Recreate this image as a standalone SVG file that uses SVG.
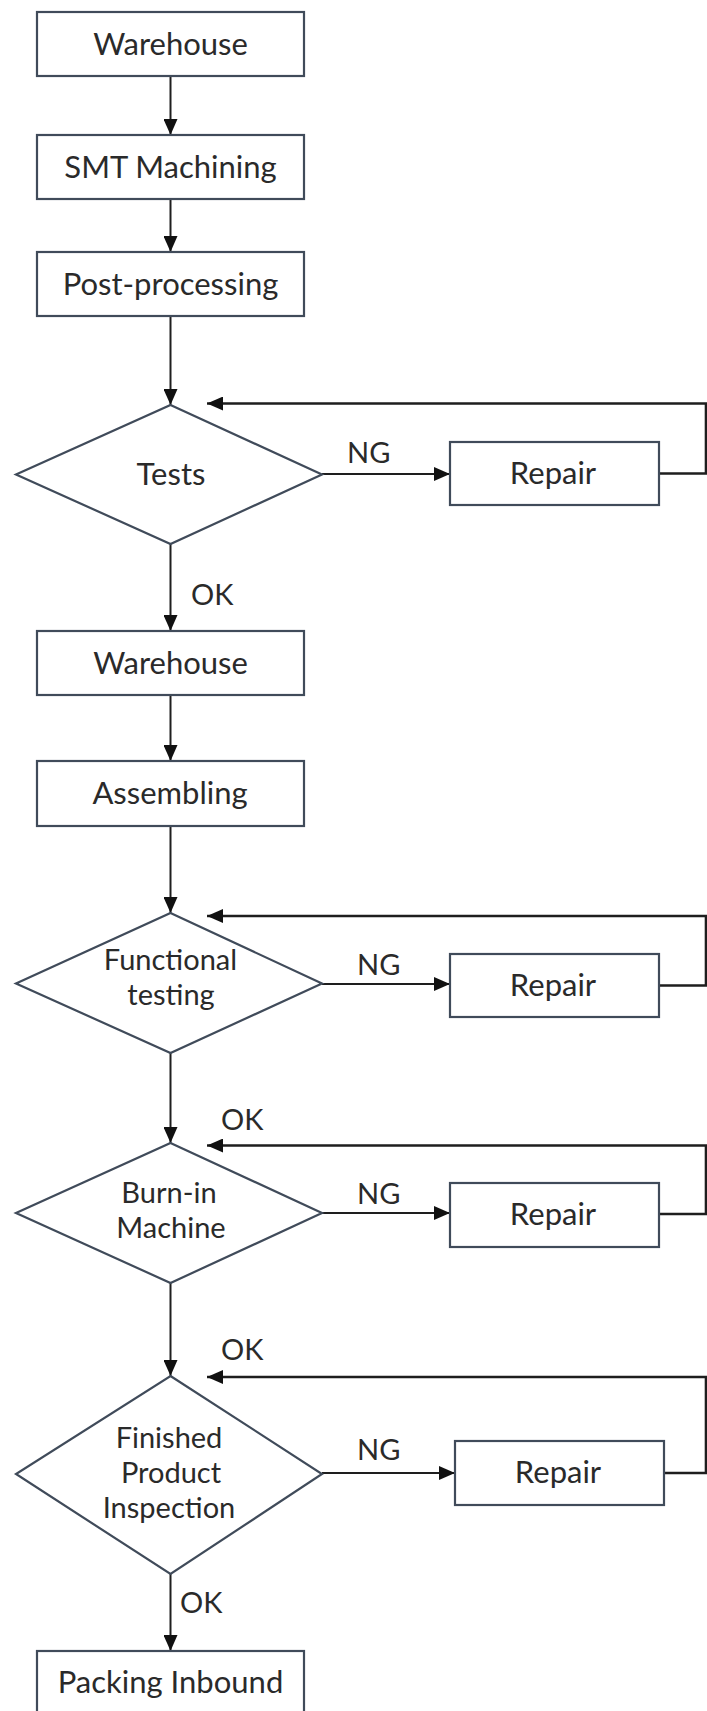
<svg xmlns="http://www.w3.org/2000/svg" width="707" height="1711" viewBox="0 0 707 1711">
<style>
.box{fill:#ffffff;stroke:#404b5a;stroke-width:2.2}
.t{font-family:Lato,"Liberation Sans",sans-serif;font-size:31px;fill:#2a2a2a;text-anchor:middle}
.dt{font-family:Lato,"Liberation Sans",sans-serif;font-size:29px;fill:#2a2a2a;text-anchor:middle}
.lbl{font-family:Lato,"Liberation Sans",sans-serif;font-size:29px;fill:#2a2a2a}
.c{fill:none;stroke:#1e1e1e;stroke-width:2}
.fb{fill:none;stroke:#1e1e1e;stroke-width:2.6}
</style>
<defs>
<marker id="ah" markerUnits="userSpaceOnUse" markerWidth="16" markerHeight="14" refX="16" refY="7" orient="auto">
<path d="M0,0 L16,7 L0,14 z" fill="#111"/>
</marker>
</defs>
<rect width="707" height="1711" fill="#ffffff"/>

<g id="connectors">
<line class="c" x1="170.5" y1="76" x2="170.5" y2="135" marker-end="url(#ah)"/>
<line class="c" x1="170.5" y1="199" x2="170.5" y2="252" marker-end="url(#ah)"/>
<line class="c" x1="170.5" y1="316" x2="170.5" y2="405" marker-end="url(#ah)"/>
<line class="c" x1="170.5" y1="544" x2="170.5" y2="631" marker-end="url(#ah)"/>
<line class="c" x1="170.5" y1="695" x2="170.5" y2="761" marker-end="url(#ah)"/>
<line class="c" x1="170.5" y1="826" x2="170.5" y2="913" marker-end="url(#ah)"/>
<line class="c" x1="170.5" y1="1053" x2="170.5" y2="1143" marker-end="url(#ah)"/>
<line class="c" x1="170.5" y1="1283" x2="170.5" y2="1376" marker-end="url(#ah)"/>
<line class="c" x1="170.5" y1="1574" x2="170.5" y2="1651" marker-end="url(#ah)"/>
<line class="c" x1="322" y1="474" x2="450" y2="474" marker-end="url(#ah)"/>
<line class="c" x1="322" y1="984" x2="450" y2="984" marker-end="url(#ah)"/>
<line class="c" x1="322" y1="1213" x2="450" y2="1213" marker-end="url(#ah)"/>
<line class="c" x1="322" y1="1473" x2="455" y2="1473" marker-end="url(#ah)"/>
<polyline class="fb" points="659,473.5 706,473.5 706,403.5 207,403.5" marker-end="url(#ah)"/>
<polyline class="fb" points="659,985.5 706,985.5 706,916 207,916" marker-end="url(#ah)"/>
<polyline class="fb" points="659,1214 706,1214 706,1145.5 207,1145.5" marker-end="url(#ah)"/>
<polyline class="fb" points="664,1473 706,1473 706,1377 207,1377" marker-end="url(#ah)"/>
<text class="lbl" x="347" y="463">NG</text>
<text class="lbl" x="191" y="605">OK</text>
<text class="lbl" x="357" y="975">NG</text>
<text class="lbl" x="221" y="1130">OK</text>
<text class="lbl" x="357" y="1204">NG</text>
<text class="lbl" x="221" y="1360">OK</text>
<text class="lbl" x="357" y="1460">NG</text>
<text class="lbl" x="180" y="1613">OK</text>
</g>

<g id="warehouse1"><rect class="box" x="37" y="12" width="267" height="64"/><text class="t" x="170.5" y="55">Warehouse</text></g>
<g id="smt"><rect class="box" x="37" y="135" width="267" height="64"/><text class="t" x="170.5" y="178">SMT Machining</text></g>
<g id="post"><rect class="box" x="37" y="252" width="267" height="64"/><text class="t" x="170.5" y="295">Post-processing</text></g>
<g id="tests"><polygon class="box" points="170.5,405 322,474.5 170.5,544 16,474.5"/><text class="t" x="171" y="485">Tests</text></g>
<g id="repair1"><rect class="box" x="450" y="442" width="209" height="63"/><text class="t" x="553" y="484">Repair</text></g>
<g id="warehouse2"><rect class="box" x="37" y="631" width="267" height="64"/><text class="t" x="170.5" y="674">Warehouse</text></g>
<g id="assembling"><rect class="box" x="37" y="761" width="267" height="65"/><text class="t" x="170" y="804">Assembling</text></g>
<g id="functional"><polygon class="box" points="170.5,913 322,983.5 170.5,1053 16,983.5"/><text class="dt" x="170.5" y="970">Functional</text><text class="dt" x="171" y="1005">testing</text></g>
<g id="repair2"><rect class="box" x="450" y="954" width="209" height="63"/><text class="t" x="553" y="996">Repair</text></g>
<g id="burnin"><polygon class="box" points="170.5,1143 322,1213 170.5,1283 16,1213"/><text class="dt" x="169" y="1203">Burn-in</text><text class="dt" x="171" y="1238">Machine</text></g>
<g id="repair3"><rect class="box" x="450" y="1183" width="209" height="64"/><text class="t" x="553" y="1225">Repair</text></g>
<g id="finished"><polygon class="box" points="170.5,1376 322,1474 170.5,1574 16,1474"/><text class="dt" x="169" y="1448">Finished</text><text class="dt" x="171" y="1483">Product</text><text class="dt" x="169" y="1518">Inspection</text></g>
<g id="repair4"><rect class="box" x="455" y="1441" width="209" height="64"/><text class="t" x="558" y="1483">Repair</text></g>
<g id="packing"><rect class="box" x="37" y="1651" width="267" height="64"/><text class="t" x="170.5" y="1693">Packing Inbound</text></g>
</svg>
